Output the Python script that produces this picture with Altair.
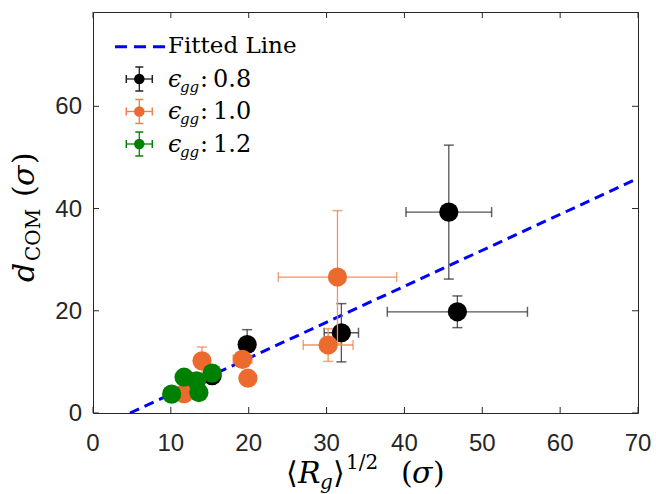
import altair as alt
import pandas as pd

# ---------------- data ----------------
# eps_gg = 0.8
x08 = [45.7, 46.8, 31.9, 19.8, 15.3]
y08 = [39.3, 19.8, 15.7, 13.4, 7.3]
xe08 = [5.5, 9.0, 2.2, 0.6, 0.5]
ye08 = [13.1, 3.1, 5.7, 2.9, 1.0]
# eps_gg = 1.0
x10 = [31.4, 30.2, 19.2, 19.9, 14.0, 11.7, 12.8]
y10 = [26.6, 13.3, 10.5, 6.8, 10.2, 3.8, 4.5]
xe10 = [7.6, 3.2, 1.2, 0.5, 0.6, 0.5, 0.5]
ye10 = [13.0, 3.2, 1.4, 0.8, 2.7, 1.0, 1.0]
# eps_gg = 1.2
x12 = [10.1, 11.7, 13.3, 13.6, 15.3]
y12 = [3.7, 7.0, 6.3, 4.0, 7.8]
xe12 = [0.5, 0.5, 0.5, 0.5, 0.5]
ye12 = [0.8, 0.8, 0.8, 0.8, 0.8]
# fitted line
fit_x = [4.75, 70.0]
fit_y = [0.0, 45.9]
# axes
x_ticks = [0, 10, 20, 30, 40, 50, 60, 70]
y_ticks = [0, 20, 40, 60]
x_dom = [0, 70]
y_dom = [0, 78.45]

W, H = 545, 401
AX = "#262626"
SER = "DejaVu Serif"

xs = alt.Scale(domain=x_dom, nice=False, zero=False)
ys = alt.Scale(domain=y_dom, nice=False, zero=False)


def series_df(x, y, xe, ye):
    return pd.DataFrame({
        "x": x, "y": y,
        "xlo": [a - b for a, b in zip(x, xe)], "xhi": [a + b for a, b in zip(x, xe)],
        "ylo": [a - b for a, b in zip(y, ye)], "yhi": [a + b for a, b in zip(y, ye)],
    })


def series_layers(df, mcol, ecol, ccol):
    base = alt.Chart(df)
    X = alt.X("x:Q", scale=xs, axis=None)
    Y = alt.Y("y:Q", scale=ys, axis=None)
    hbar = base.mark_rule(color=ecol, strokeWidth=1.3).encode(
        x=alt.X("xlo:Q", scale=xs, axis=None), x2="xhi:Q", y=Y)
    vbar = base.mark_rule(color=ecol, strokeWidth=1.3).encode(
        x=X, y=alt.Y("ylo:Q", scale=ys, axis=None), y2="yhi:Q")
    cap_lo_y = base.mark_tick(color=ccol, orient="horizontal", size=10, thickness=1.5).encode(
        x=X, y=alt.Y("ylo:Q", scale=ys, axis=None))
    cap_hi_y = base.mark_tick(color=ccol, orient="horizontal", size=10, thickness=1.5).encode(
        x=X, y=alt.Y("yhi:Q", scale=ys, axis=None))
    cap_lo_x = base.mark_tick(color=ccol, orient="vertical", size=10, thickness=1.5).encode(
        x=alt.X("xlo:Q", scale=xs, axis=None), y=Y)
    cap_hi_x = base.mark_tick(color=ccol, orient="vertical", size=10, thickness=1.5).encode(
        x=alt.X("xhi:Q", scale=xs, axis=None), y=Y)
    pts = base.mark_circle(color=mcol, opacity=1, size=370).encode(x=X, y=Y)
    return [hbar, vbar, cap_lo_y, cap_hi_y, cap_lo_x, cap_hi_x, pts]


d08 = series_df(x08, y08, xe08, ye08)
d10 = series_df(x10, y10, xe10, ye10)
d12 = series_df(x12, y12, xe12, ye12)

BLACK, ORANGE, GREEN = "#000000", "#EC6A2E", "#008000"

fit = alt.Chart(pd.DataFrame({"x": fit_x, "y": fit_y})).mark_line(
    color="#0000FF", strokeWidth=3, strokeDash=[10, 6], clip=True).encode(
    x=alt.X("x:Q", scale=xs, axis=None),
    y=alt.Y("y:Q", scale=ys, axis=None),
)

# inner ticks on all four sides + tick labels
xt = pd.DataFrame({"t": x_ticks})
yt = pd.DataFrame({"t": y_ticks})
tick_layers = [
    alt.Chart(xt).mark_rule(color=AX, strokeWidth=1).encode(
        x=alt.X("t:Q", scale=xs, axis=None), y=alt.value(H), y2=alt.value(H - 6)),
    alt.Chart(xt).mark_rule(color=AX, strokeWidth=1).encode(
        x=alt.X("t:Q", scale=xs, axis=None), y=alt.value(0), y2=alt.value(6)),
    alt.Chart(yt).mark_rule(color=AX, strokeWidth=1).encode(
        y=alt.Y("t:Q", scale=ys, axis=None), x=alt.value(0), x2=alt.value(6)),
    alt.Chart(yt).mark_rule(color=AX, strokeWidth=1).encode(
        y=alt.Y("t:Q", scale=ys, axis=None), x=alt.value(W), x2=alt.value(W - 6)),
    alt.Chart(xt).mark_text(font="Liberation Sans", fontSize=24, color=AX,
                            align="center", baseline="alphabetic").encode(
        x=alt.X("t:Q", scale=xs, axis=None), y=alt.value(H + 38), text=alt.Text("t:Q")),
    alt.Chart(yt).mark_text(font="Liberation Sans", fontSize=24, color=AX,
                            align="right", baseline="middle", dy=1).encode(
        y=alt.Y("t:Q", scale=ys, axis=None), x=alt.value(-11), text=alt.Text("t:Q")),
]

one = pd.DataFrame({"a": [0]})


def txt(s, x, y, size, italic=False, angle=0, font=SER, color="#000000"):
    return alt.Chart(one).mark_text(
        text=s, font=font, fontSize=size, fontStyle="italic" if italic else "normal",
        align="left", baseline="alphabetic", angle=angle, color=color).encode(
        x=alt.value(x), y=alt.value(y))


# ---- legend (pixel positions relative to plot area) ----
leg = []
leg.append(alt.Chart(one).mark_rule(color="#0000FF", strokeWidth=3, strokeDash=[12, 7]).encode(
    x=alt.value(22), x2=alt.value(72), y=alt.value(34.7)))
leg.append(txt("Fitted Line", 75, 41, 23))
rows = [(67.0, "0.8", BLACK, "#222222"), (99.5, "1.0", ORANGE, "#F07F4A"), (132.0, "1.2", GREEN, "#0A800A")]
cx = 46.3
for ry, lab, mc, ec in rows:
    leg.append(alt.Chart(one).mark_rule(color=ec, strokeWidth=1.3).encode(
        x=alt.value(cx - 13), x2=alt.value(cx + 13), y=alt.value(ry)))
    leg.append(alt.Chart(one).mark_rule(color=ec, strokeWidth=1.3).encode(
        x=alt.value(cx), y=alt.value(ry - 12), y2=alt.value(ry + 12)))
    for dx in (-13, 13):
        leg.append(alt.Chart(one).mark_rule(color=ec, strokeWidth=1.5).encode(
            x=alt.value(cx + dx), y=alt.value(ry - 4), y2=alt.value(ry + 4)))
    for dy in (-12, 12):
        leg.append(alt.Chart(one).mark_rule(color=ec, strokeWidth=1.5).encode(
            x=alt.value(cx - 4), x2=alt.value(cx + 4), y=alt.value(ry + dy)))
    leg.append(alt.Chart(one).mark_circle(color=mc, opacity=1, size=110).encode(
        x=alt.value(cx), y=alt.value(ry)))
    leg.append(txt("\u03f5", 75, ry + 7.7, 24, italic=True))
    leg.append(txt("gg", 87, ry + 12.5, 15, italic=True))
    leg.append(txt(":", 107, ry + 7.7, 24))
    leg.append(txt(lab, 120, ry + 7.7, 24))

# ---- axis titles, built from pieces ----
tb = 471  # baseline of x title (relative)
xtitle = [
    txt("\u27e8", 193, tb, 30),
    txt("R", 205, tb, 30, italic=True),
    txt("g", 227, tb + 6, 20, italic=True),
    txt("\u27e9", 240, tb, 30),
    txt("1/2", 253, tb - 14, 20),
    txt("(", 308, tb, 30),
    txt("\u03c3", 319, tb, 30, italic=True),
    txt(")", 340, tb, 30),
]
bx = -59  # baseline x of y title (relative)
ytitle = [
    txt("d", bx, 270, 30, italic=True, angle=270),
    txt("COM", bx + 6, 249, 20, angle=270),
    txt("(", bx, 185, 30, angle=270),
    txt("\u03c3", bx, 174, 30, italic=True, angle=270),
    txt(")", bx, 152, 30, angle=270),
]

layers = [fit] + tick_layers
layers += series_layers(d08, BLACK, "#555555", "#222222")
layers += series_layers(d10, ORANGE, "#F2915F", "#F07F4A")
layers += series_layers(d12, GREEN, "#1A8A1A", "#0A800A")
layers += leg + xtitle + ytitle

chart = alt.layer(*layers).properties(
    width=W, height=H,
    autosize=alt.AutoSizeParams(type="none"),
    padding={"left": 93, "top": 12, "right": 18, "bottom": 81},
    background="white",
).configure_view(stroke=AX, strokeWidth=1)

chart.save("out.html", embed_options={"renderer": "svg", "actions": False})
